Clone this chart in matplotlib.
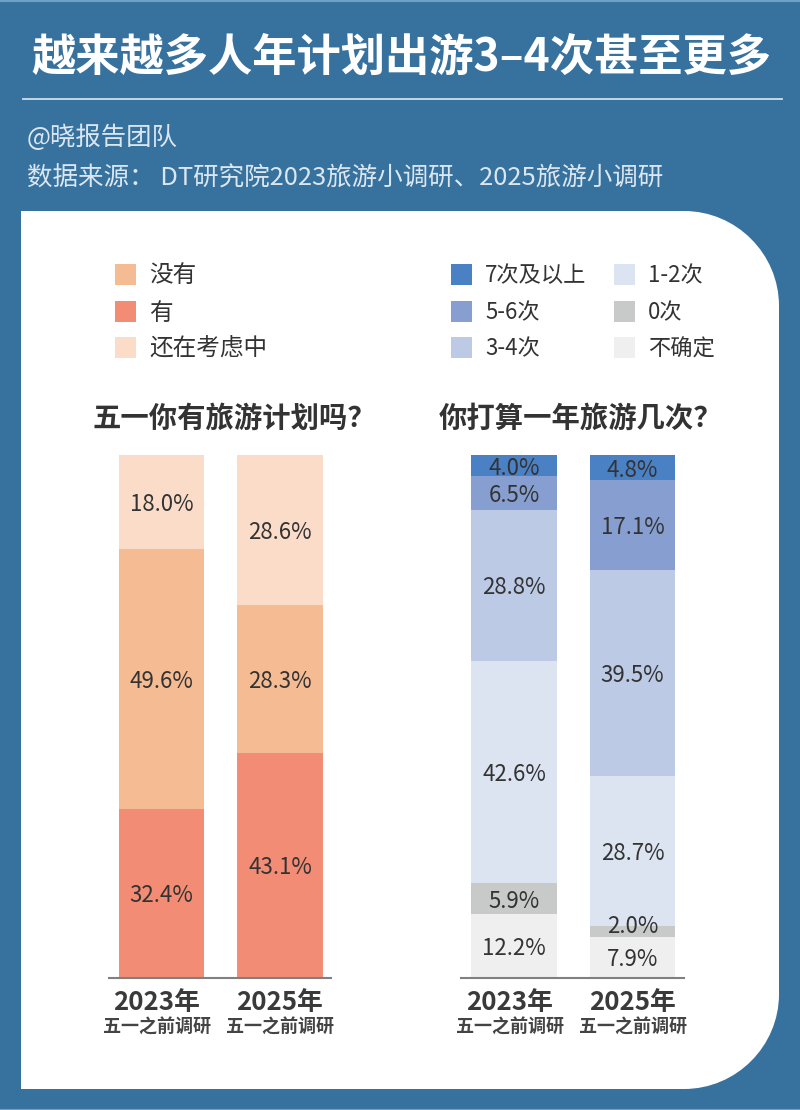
from matplotlib import pyplot as plt
from matplotlib.patches import PathPatch, Rectangle
from matplotlib.path import Path
from matplotlib.transforms import ScaledTranslation
import numpy as np

plt.rcParams['font.family'] = ['Noto Sans CJK SC', 'DejaVu Sans']

years = ["2023年", "2025年"]
surveyNote = "五一之前调研"

planNames = ["有", "没有", "还在考虑中"]
planValues = [[32.4, 43.1], [49.6, 28.3], [18.0, 28.6]]
planColors = ["#f28c74", "#f5bb93", "#fadcc8"]
planLegend = ["没有", "有", "还在考虑中"]

tripNames = ["不确定", "0次", "1-2次", "3-4次", "5-6次", "7次及以上"]
tripValues = [[12.2, 7.9], [5.9, 2.0], [42.6, 28.7], [28.8, 39.5], [6.5, 17.1], [4.0, 4.8]]
tripColors = ["#efefef", "#c8cac9", "#dce4f2", "#bccae6", "#869fd0", "#4a80c4"]
tripLegend = ["7次及以上", "5-6次", "3-4次", "1-2次", "0次", "不确定"]

W, H = 800, 1110
blue = "#37719e"
dark = "#333333"

fig = plt.figure(figsize=(W / 100, H / 100), dpi=100, facecolor=blue)

# whole page in pixel coords, y going down
page = fig.add_axes([0, 0, 1, 1])
page.set_xlim(0, W)
page.set_ylim(H, 0)
page.axis("off")

def panelPath(x0, y0, x1, y1, r):
    k = r * 0.45
    verts = [(x0, y0), (x1 - r, y0), (x1 - k, y0), (x1, y0 + k), (x1, y0 + r),
             (x1, y1 - r), (x1, y1 - k), (x1 - k, y1), (x1 - r, y1), (x0, y1), (x0, y0)]
    codes = [Path.MOVETO, Path.LINETO, Path.CURVE4, Path.CURVE4, Path.CURVE4,
             Path.LINETO, Path.CURVE4, Path.CURVE4, Path.CURVE4, Path.LINETO, Path.CLOSEPOLY]
    return Path(verts, codes)

page.add_patch(PathPatch(panelPath(21, 211, 779, 1089, 95), fc="white", ec="none"))
page.plot([23, 782], [98.5, 98.5], color="#cfe0ec", lw=1.3)
page.plot([0, W], [0.5, 0.5], color="#6fa0c8", lw=1.5)
page.plot([0, W], [H - 0.5, H - 0.5], color="#6fa0c8", lw=1.5)

page.text(401, 58, "越来越多人年计划出游3–4次甚至更多", color="white", fontsize=31.9,
          fontweight="bold", ha="center", va="center")
page.text(27, 138, "@晓报告团队", color="#dbe7f0", fontsize=18.3, ha="left", va="center")
page.text(27, 178.5, "数据来源： DT研究院2023旅游小调研、2025旅游小调研", color="#dbe7f0",
          fontsize=18.4, ha="left", va="center")

def drawLegend(names, colors, x, ys, size):
    colorOf = dict(zip(names[0], names[1]))
    for name, y in zip(colors, ys):
        page.add_patch(Rectangle((x, y - 10), 21, 21, fc=colorOf[name], ec="none"))
        page.text(x + 34, y + 2, name, color=dark, fontsize=size, ha="left", va="center")

rows = [274, 311, 347]
drawLegend((planNames, planColors), planLegend, 115, rows, 17)
drawLegend((tripNames, tripColors), tripLegend[:3], 451, rows, 16)
drawLegend((tripNames, tripColors), tripLegend[3:], 614, rows, 16)

page.text(92, 419, "五一你有旅游计划吗？", color=dark, fontsize=20.4, fontweight="bold",
          ha="left", va="center")
page.text(439, 419, "你打算一年旅游几次？", color=dark, fontsize=20.4, fontweight="bold",
          ha="left", va="center")

def drawChart(values, colors, left, right, first, shifts):
    ax = fig.add_axes([left / W, 1 - 978 / H, (right - left) / W, (978 - 455) / H])
    ax.patch.set_alpha(0)
    ax.set_xlim((left - first) / 118.5, (right - first) / 118.5)
    ax.set_ylim(0, 100)
    bottom = np.zeros(2)
    for i, (series, color) in enumerate(zip(values, colors)):
        series = np.array(series)
        ax.bar([0, 1], series, width=0.725, bottom=bottom, color=color, linewidth=0)
        for j in range(2):
            y = bottom[j] + series[j] / 2 - 0.5 + shifts.get((i, j), 0)
            ax.text(j, y, "{:.1f}%".format(series[j]), color=dark, fontsize=16,
                    ha="center", va="center")
        bottom += series
    for side in ["top", "left", "right"]:
        ax.spines[side].set_visible(False)
    ax.spines["bottom"].set_color("#808080")
    ax.spines["bottom"].set_linewidth(1.5)
    ax.set_yticks([])
    ax.set_xticks([0, 1])
    ax.set_xticklabels(years, fontsize=18.6, fontweight="bold", color="#3a3a3a")
    ax.tick_params(axis="x", length=0, pad=8)
    # the 2023 captions sit a little left of their bar
    nudge = ScaledTranslation(-4.5 / 100, 0, fig.dpi_scale_trans)
    ax.get_xticklabels()[0].set_transform(ax.get_xticklabels()[0].get_transform() + nudge)
    for j in range(2):
        ax.annotate(surveyNote, (j, 0), xytext=(-3.2 if j == 0 else 0, -35),
                    xycoords=("data", "axes fraction"), textcoords="offset points",
                    color="#444444", fontsize=13, fontweight="bold", ha="center", va="center")

drawChart(planValues, planColors, 109, 331, 161.5, {})
drawChart(tripValues, tripColors, 461, 684, 514, {(1, 1): 1.5})

fig.savefig("out.png", dpi=100, facecolor=blue)
